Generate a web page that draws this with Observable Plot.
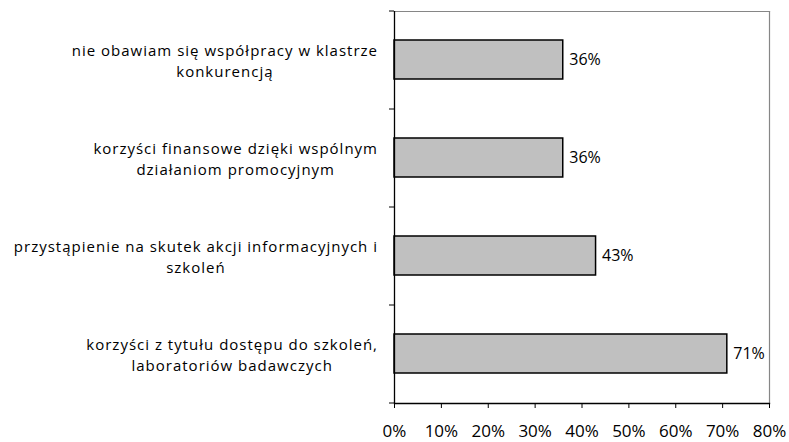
<!DOCTYPE html>
<html>
<head>
<meta charset="utf-8">
<script src="https://cdn.jsdelivr.net/npm/d3@7"></script>
<script src="https://cdn.jsdelivr.net/npm/@observablehq/plot@0.6"></script>
<style>
  html, body { margin: 0; padding: 0; background: #fff; }
  #chart { width: 789px; height: 442px; }
  .catlabel text { letter-spacing: 1px; }
</style>
</head>
<body>
<div id="chart"></div>
<script>
const categories = [
  "nie obawiam się współpracy w klastrze\nkonkurencją",
  "korzyści finansowe dzięki wspólnym\ndziałaniom promocyjnym",
  "przystąpienie na skutek akcji informacyjnych i\nszkoleń",
  "korzyści z tytułu dostępu do szkoleń,\nlaboratoriów badawczych"
];
const values = [0.36, 0.36, 0.43, 0.71];
const xTicks = [0, 0.1, 0.2, 0.3, 0.4, 0.5, 0.6, 0.7, 0.8];

const data = categories.map((c, i) => ({category: c, value: values[i]}));
const pct = d3.format(".0%");
const font = "'Open Sans', sans-serif";

const chart = Plot.plot({
  width: 789,
  height: 442,
  marginLeft: 394,
  marginRight: 20,
  marginTop: 11,
  marginBottom: 39,
  style: {fontFamily: font, fontSize: "16px", color: "#000", background: "#fff"},
  x: {domain: [0, 0.8], ticks: xTicks, tickFormat: pct},
  y: {domain: categories, paddingInner: 0.6, paddingOuter: 0.3},
  marks: [
    Plot.frame({anchor: "top", stroke: "#868686", strokeWidth: 1.2}),
    Plot.frame({anchor: "right", stroke: "#868686", strokeWidth: 1.2}),
    Plot.barX(data, {x: "value", y: "category", fill: "#c0c0c0", stroke: "#000", strokeWidth: 1.5}),
    Plot.text(data, {x: "value", y: "category", text: d => pct(d.value), textAnchor: "start", dx: 6, fontSize: 16}),
    Plot.text(categories, {x: 0, y: d => d, text: d => d, textAnchor: "middle", lineHeight: 1.4, fontSize: 15, className: "catlabel"}),
    Plot.frame({anchor: "bottom", stroke: "#000", strokeWidth: 1.3}),
    Plot.ruleX([0], {stroke: "#000", strokeWidth: 1.3}),
    Plot.axisX({ticks: xTicks, tickFormat: pct, tickSize: 5, tickPadding: 16, label: null, fontSize: 17}),
    Plot.axisY({tickSize: 5, tickFormat: () => "", dy: 49, label: null}),
    Plot.axisY([categories[0]], {tickSize: 5, tickFormat: () => "", dy: -49, label: null})
  ]
});
document.getElementById("chart").appendChild(chart);

// center each multi-line label block with its right edge just left of the axis
const svgRect = chart.getBoundingClientRect();
chart.querySelectorAll(".catlabel text").forEach(el => {
  const r = el.getBoundingClientRect();
  const right = r.right - svgRect.left;
  const dx = 378 - right;
  el.setAttribute("transform", `translate(${dx},0) ` + (el.getAttribute("transform") || ""));
});
</script>
</body>
</html>
